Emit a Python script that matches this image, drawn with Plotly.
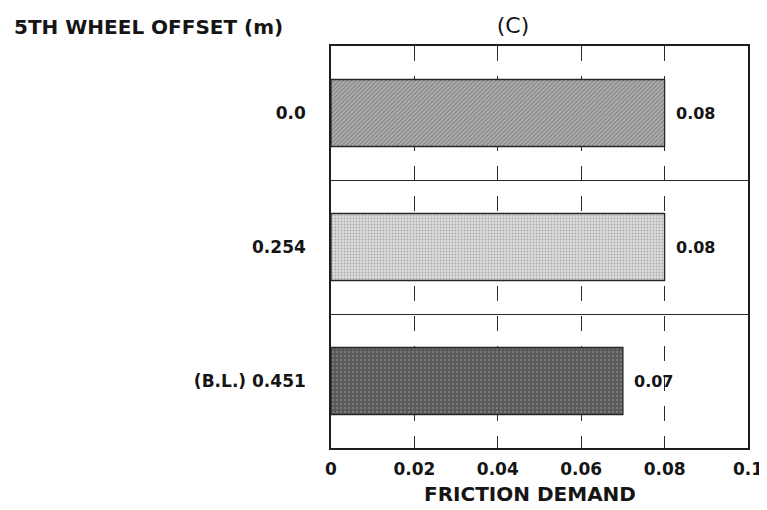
import plotly.graph_objects as go

categories = ["0.0", "0.254", "(B.L.) 0.451"]
friction_demand = [0.08, 0.08, 0.07]
value_labels = ["0.08", "0.08", "0.07"]
x_ticks = [0, 0.02, 0.04, 0.06, 0.08, 0.1]
x_tick_labels = ["0", "0.02", "0.04", "0.06", "0.08", "0.1"]

positions = list(range(len(categories)))
boundaries = [p + 0.5 for p in positions[:-1]]

patterns = [
    dict(shape="/", bgcolor="#b0b0b0", fgcolor="#484848", size=3, solidity=0.35),
    dict(shape=".", bgcolor="#dcdcdc", fgcolor="#7a7a7a", size=3, solidity=0.3),
    dict(shape=".", bgcolor="#585858", fgcolor="#9a9a9a", size=4, solidity=0.3),
]

font = "DejaVu Sans, Verdana, sans-serif"
ink = "#151515"

# figure is placed with an 8px page margin, so size/margins compensate
W, H = 759, 502
L, R, T, B = 323, 19, 38, 62
PW, PH = W - L - R, H - T - B

fig = go.Figure()
for i, (cat, val) in enumerate(zip(categories, friction_demand)):
    fig.add_trace(go.Bar(
        x=[val], y=[positions[i]], orientation="h", width=0.5,
        marker=dict(color=patterns[i]["bgcolor"], pattern=patterns[i],
                    line=dict(color="#262626", width=1.3)),
        showlegend=False, hoverinfo="x+y",
    ))
    fig.add_annotation(x=val, y=positions[i], text=value_labels[i], showarrow=False,
                       xanchor="left", yanchor="middle", xshift=9,
                       font=dict(family=font, size=16, color=ink, weight="bold"))

fig.update_layout(
    width=W, height=H,
    margin=dict(l=L, r=R, t=T, b=B),
    paper_bgcolor="white", plot_bgcolor="white",
    font=dict(family=font, size=16, color=ink),
    title=dict(text="(C)", x=505 / W, xanchor="center", xref="container",
               y=1 - 17 / H, yanchor="middle",
               font=dict(size=22, family=font, color=ink)),
    bargap=0.5,
)
fig.update_xaxes(
    range=[0, 0.1], tickvals=x_ticks, ticktext=x_tick_labels, automargin=False,
    ticklabeloverflow="allow",
    showgrid=True, gridcolor="#2a2a2a", gridwidth=1.1, griddash="longdash",
    showline=True, linecolor="#1e1e1e", linewidth=1.6, mirror=True,
    ticks="outside", ticklen=5, tickcolor="rgba(0,0,0,0)", zeroline=False,
    tickfont=dict(size=17, family=font, weight="bold", color=ink),
)
fig.update_yaxes(
    range=[len(categories) - 0.5, -0.5], automargin=False,
    tickvals=positions, ticktext=categories,
    showgrid=False, zeroline=False,
    showline=True, linecolor="#1e1e1e", linewidth=1.6, mirror=True,
    ticks="outside", ticklen=20, tickcolor="rgba(0,0,0,0)",
    tickfont=dict(size=17, family=font, weight="bold", color=ink),
    minor=dict(tickvals=boundaries, showgrid=True, gridcolor="#2a2a2a", gridwidth=1.3),
)
fig.add_annotation(text="5TH WHEEL OFFSET (m)", xref="paper", yref="paper",
                   x=(4 - L) / PW, y=1 + (T - 19) / PH, xanchor="left", yanchor="middle",
                   showarrow=False, font=dict(size=20, family=font, weight="bold", color=ink))
fig.add_annotation(text="FRICTION DEMAND", xref="paper", yref="paper",
                   x=(522 - L) / PW, y=-(486 - (T + PH)) / PH, xanchor="center", yanchor="middle",
                   showarrow=False, font=dict(size=20, family=font, weight="bold", color=ink))

fig.write_html("out.html")
